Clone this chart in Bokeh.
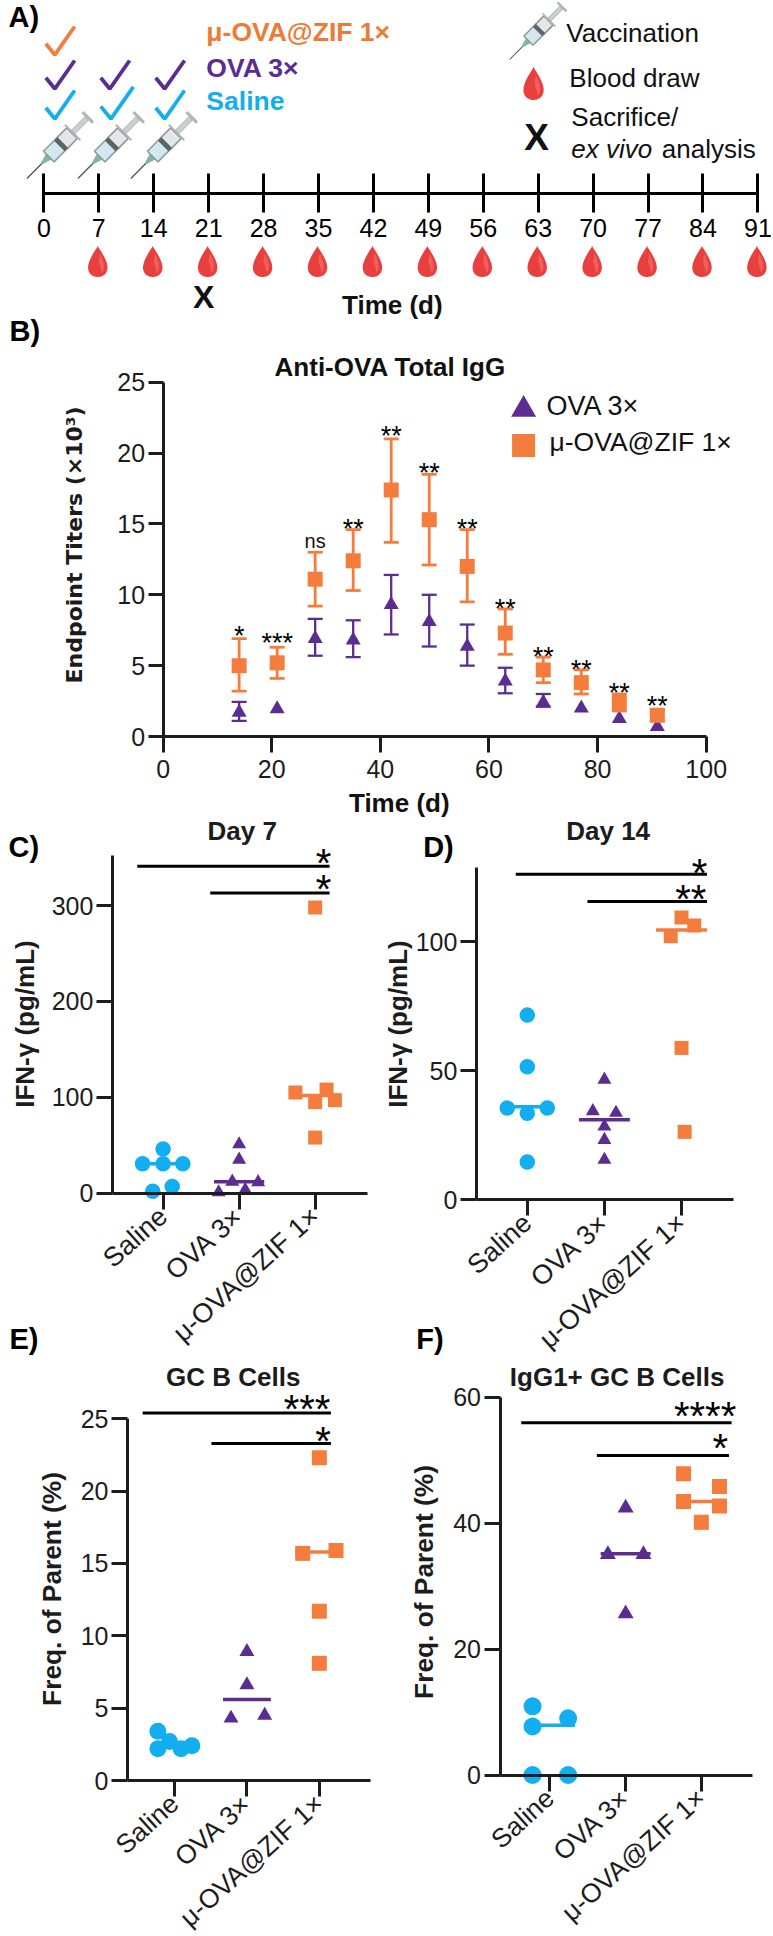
import math
import numpy as np
from bokeh.plotting import figure
from bokeh.layouts import column, row
from bokeh.models import (Range1d, LinearAxis, FixedTicker, Label, Whisker, TeeHead,
                          ColumnDataSource)
from bokeh.core.properties import value
from bokeh.embed import file_html
from bokeh.resources import INLINE

FONT = "Liberation Sans"
ORANGE, PURPLE, BLUE = "#F47C3C", "#5C2D91", "#12AEEF"
DARK = "#1c1c1c"
XS = 0.9945

# ---------- data ----------
timeline_days = [0, 7, 14, 21, 28, 35, 42, 49, 56, 63, 70, 77, 84, 91]
blood_days = [7, 14, 21, 28, 35, 42, 49, 56, 63, 70, 77, 84, 91]
vaccination_days = [0, 7, 14]
sacrifice_day = 21

b_days = [14, 21, 28, 35, 42, 49, 56, 63, 70, 77, 84, 91]
b_orange = [5.0, 5.2, 11.1, 12.4, 17.4, 15.3, 12.0, 7.3, 4.7, 3.8, 2.4, 1.5]
b_orange_hi = [6.9, 6.3, 13.0, 14.6, 21.0, 18.5, 14.6, 9.0, 5.6, 4.7, 3.0, 1.9]
b_orange_lo = [3.2, 4.1, 9.2, 10.3, 13.7, 12.1, 9.5, 5.8, 3.8, 3.0, 1.8, 1.1]
b_purple = [1.7, 1.95, 6.9, 6.8, 9.3, 8.1, 6.35, 3.9, 2.4, 2.0, 1.25, 0.7]
b_purple_hi = [2.45, 2.1, 8.3, 8.2, 11.4, 10.0, 7.9, 4.85, 3.0, 2.1, 1.3, 0.75]
b_purple_lo = [1.1, 1.8, 5.7, 5.6, 7.2, 6.35, 5.0, 3.05, 2.1, 1.9, 1.2, 0.65]
b_sig = ["*", "***", "ns", "**", "**", "**", "**", "**", "**", "**", "**", "**"]
b_sig_y = [7.5, 7.0, 13.8, 15.1, 21.6, 19.0, 15.1, 9.4, 6.0, 5.1, 3.5, 2.6]

groups = ["Saline", "OVA 3×", "μ-OVA@ZIF 1×"]

c_saline_x = [0, -0.27, 0, 0.26, 0.12, -0.136]
c_saline = [46, 30.6, 30.6, 30.6, 7, 2]
c_ova_x = [0, 0, -0.09, 0.25, -0.27, 0.08]
c_ova = [51, 35, 12, 11.5, 1, 3.5]
c_zif_x = [0, -0.26, 0.15, 0, 0.26, 0]
c_zif = [298, 105, 108, 95, 97, 58]
c_medians = [30.6, 12, 102]
c_bars = [(-0.34, 2.19, 341), (0.62, 2.19, 313)]
c_stars = [(2.11, 351, "*"), (2.11, 323, "*")]

d_saline_x = [0, 0, -0.26, 0.26, 0, 0]
d_saline = [71.5, 51.5, 35.5, 35.5, 33.5, 14.6]
d_ova_x = [0, -0.15, 0.15, 0, 0, 0]
d_ova = [46.5, 34.3, 33.7, 28.4, 23.2, 15.5]
d_zif_x = [0, 0.165, -0.14, 0, 0.04]
d_zif = [109.3, 106.2, 102, 58.8, 26.3]
d_medians = [36, 31, 104.5]
d_bars = [(-0.15, 2.33, 126), (0.78, 2.33, 115.5)]
d_stars = [(2.235, 129, "*"), (2.12, 118.8, "**")]

e_saline_x = [-0.23, -0.07, -0.23, 0.09, 0.24]
e_saline = [3.4, 2.7, 2.2, 2.2, 2.4]
e_ova_x = [0, 0, -0.22, 0.245]
e_ova = [8.9, 6.6, 4.3, 4.5]
e_zif_x = [0, 0.23, -0.23, 0, 0]
e_zif = [22.3, 15.9, 15.7, 11.7, 8.1]
e_medians = [2.4, 5.6, 15.8]
e_bars = [(-0.44, 2.16, 25.4), (0.51, 2.16, 23.3)]
e_stars = [(1.83, 26.07, "***"), (2.05, 23.9, "*")]

f_saline_x = [-0.23, -0.23, 0.24, -0.23, 0.24]
f_saline = [10.9, 7.7, 9.0, 0, 0]
f_ova_x = [0, -0.235, 0.235, 0]
f_ova = [42.4, 35, 35, 25.6]
f_zif_x = [-0.235, 0.24, -0.235, 0.24, 0]
f_zif = [47.8, 45.8, 43.4, 42.7, 40.1]
f_medians = [7.9, 35.1, 43.4]
f_bars = [(-0.38, 2.40, 55.9), (0.62, 2.365, 50.7)]
f_stars = [(2.05, 58, "****"), (2.25, 52.8, "*")]


# ---------- helpers ----------
def panel(left, right, top, bottom, xa, xa_px, xb, xb_px, ya, ya_px, yb, yb_px):
    """figure whose frame is the whole canvas, covering page pixels left..right, top..bottom"""
    xa_px, xb_px = xa_px * XS, xb_px * XS
    kx = (xb - xa) / (xb_px - xa_px)
    ky = (yb - ya) / (yb_px - ya_px)
    p = figure(width=right - left, height=bottom - top,
               x_range=Range1d(xa + (left - xa_px) * kx, xa + (right - xa_px) * kx),
               y_range=Range1d(ya + (bottom - ya_px) * ky, ya + (top - ya_px) * ky),
               x_axis_type=None, y_axis_type=None, toolbar_location=None,
               output_backend="svg", min_border=0, outline_line_color=None)
    p.background_fill_color = None
    p.border_fill_color = None
    return p


def T(p, box, x, y, text, size=22, bold=False, italic=False, color=DARK, align="left", angle=0, font=FONT):
    style = "bold" if bold else ("italic" if italic else "normal")
    p.add_layout(Label(x=x * XS - box[0], y=box[1] - y + 1.5, x_units="screen", y_units="screen", text=text,
                       text_font=font, text_font_size=f"{size}px", text_font_style=style,
                       text_color=color, text_align=align, text_baseline="middle",
                       angle=angle, angle_units="deg"))


def style_axis(ax, lw, size, color, tick=16, standoff=4):
    ax.axis_line_width = lw
    ax.axis_line_color = color
    ax.major_tick_line_width = lw
    ax.major_tick_line_color = color
    ax.major_tick_out = tick
    ax.major_tick_in = 0
    ax.minor_tick_line_color = None
    ax.major_label_text_font = FONT
    ax.major_label_text_font_size = f"{size}px"
    ax.major_label_text_color = color
    ax.major_label_standoff = standoff


def dot_panel(box_px, cal, ytop_val, yticks, xax_end, data, medians, bars, stars, title, title_xy,
              ylab, ylab_xy, letters, ms=(15.5, 14, 14), ylab_size=26, tick_size=27):
    left, right, top, bottom = box_px
    p = panel(left, right, top, bottom, *cal)
    box = (left, bottom)
    xl, xr = xax_end
    ya = LinearAxis(ticker=FixedTicker(ticks=yticks), fixed_location=xl, bounds=(0, ytop_val))
    style_axis(ya, 3, 25, DARK, tick=16, standoff=3)
    p.add_layout(ya, "left")
    xa = LinearAxis(ticker=FixedTicker(ticks=[0, 1, 2]), fixed_location=0, bounds=(xl, xr),
                    major_label_overrides={i: g for i, g in enumerate(groups)},
                    major_label_orientation=math.radians(42))
    style_axis(xa, 3, tick_size, DARK, tick=16, standoff=3)
    p.add_layout(xa, "below")
    kinds = [("circle", BLUE, ms[0]), ("triangle", PURPLE, ms[1]), ("square", ORANGE, ms[2])]
    for i, ((xs, ys), (mk, col, sz)) in enumerate(zip(data, kinds)):
        p.scatter([i + v for v in xs], ys, marker=mk, size=sz, color=col, line_color=None)
        p.segment([i - 0.33], [medians[i]], [i + 0.33], [medians[i]], line_color=col, line_width=3.5)
    for x0, x1, y in bars:
        p.segment([x0], [y], [x1], [y], line_color="#000000", line_width=3)
    p.text([s[0] for s in stars], [s[1] for s in stars], text=[s[2] for s in stars],
           text_font=value(FONT), text_font_size="40px", text_color="#000000",
           text_align="center", text_baseline="middle", y_offset=6)
    T(p, box, title_xy[0], title_xy[1], title, size=26, bold=True, align="center", color=DARK)
    T(p, box, ylab_xy[0], ylab_xy[1], ylab, size=ylab_size, bold=True, align="center", angle=90, color=DARK)
    for (lx, ly, ltx) in letters:
        T(p, box, lx, ly, ltx, size=29, bold=True, color="#000000")
    return p


# ---------- panel A ----------
A_L, A_R, A_T, A_B = 0, 773, 0, 354
DAY0, PXDAY = 43.6, 7.89
pa = panel(A_L, A_R, A_T, A_B, 0, DAY0, 91, DAY0 + 91 * PXDAY, 0, 0, 100, 100)
boxA = (A_L, A_B)
ax = LinearAxis(ticker=FixedTicker(ticks=timeline_days), fixed_location=193.3, bounds=(0, 91))
style_axis(ax, 3, 25, "#000000", tick=19, standoff=6)
ax.major_tick_in = 20
pa.add_layout(ax, "below")


def px2d(px):
    return [(v - DAY0) / PXDAY for v in px]


def drop(cx, cy, w, h):
    t = np.linspace(0, 2 * np.pi, 60)
    x = cx + w / 2 * np.sin(t) * np.sin(t / 2) ** 1.3 * 1.12
    y = cy - h / 2 * np.cos(t)
    pa.patch(px2d(x), list(y), fill_color="#E8403F", line_color=None)
    tt = np.linspace(0.9, 2.6, 30)
    x2 = cx + w / 2 * 0.72 * np.sin(tt) * np.sin(tt / 2) ** 1.3
    y2 = cy - h / 2 * 0.85 * np.cos(tt)
    pa.patch(px2d(np.r_[x2, cx + 1]), list(np.r_[y2, cy]), fill_color="#EF5F5C", line_color=None)


def syringe(tipx, tipy, L=1.0):
    ux, uy = math.cos(math.pi / 4), -math.sin(math.pi / 4)
    nx, ny = -uy, ux

    def poly(tw, color, lc=None, lw=1):
        xs = [tipx + L * (t * ux + s * nx) for t, s in tw]
        ys = [tipy + L * (t * uy + s * ny) for t, s in tw]
        pa.patch(px2d(xs), ys, fill_color=color, line_color=lc, line_width=lw)

    def rect(t0, t1, hw, color, lc=None, lw=1):
        poly([(t0, -hw), (t1, -hw), (t1, hw), (t0, hw)], color, lc, lw)

    rect(0, 24, 0.6, "#4a4f52")
    poly([(21, -1), (31, -4), (31, 4), (21, 1)], "#7DB89A")
    rect(31, 64, 7.5, "#D2E7EE", "#8E989C", 1.5)
    rect(48, 64, 7.5, "#E4E7E8", "#8E989C", 1.5)
    rect(46, 51, 7.5, "#5B6468")
    rect(64, 66, 11, "#AEB5B8")
    rect(66, 85, 2.5, "#C9CED0", "#A0A7AA", 0.8)
    rect(85, 88, 7.5, "#AEB5B8")


for d in blood_days:
    drop(DAY0 + PXDAY * d - 1, 261, 24, 31)
for d, off in zip(vaccination_days, [-17, -21, -23]):
    syringe(DAY0 + PXDAY * d + off, 178)
syringe(512, 59, 0.86)
drop(536, 83, 25, 33)

checks = [(0, 0, ORANGE, 1), (0, 34, PURPLE, 1), (0, 64, BLUE, 1),
          (7, 34, PURPLE, 1), (7, 64, BLUE, 1.13), (14, 34, PURPLE, 1), (14, 64, BLUE, 1)]
for d, dy, col, k in checks:
    base = DAY0 + PXDAY * d + 2
    ymid = 54.3 + dy
    pa.line(px2d([base, base + 9 * k, base + 29 * k]), [ymid - 11 * k, ymid, ymid - 28.3 * k],
            line_color=col, line_width=3.8)

T(pa, boxA, 8, 18, "A)", size=29, bold=True, color="#000000")
T(pa, boxA, 9, 332, "B)", size=29, bold=True, color="#000000")
T(pa, boxA, 207, 33, "μ-OVA@ZIF 1×", size=26.5, bold=True, color="#EE7A35")
T(pa, boxA, 207, 69, "OVA 3×", size=26.5, bold=True, color=PURPLE)
T(pa, boxA, 207, 102, "Saline", size=26.5, bold=True, color=BLUE)
T(pa, boxA, 569, 34, "Vaccination", size=26, color="#111111")
T(pa, boxA, 572, 79, "Blood draw", size=26, color="#111111")
T(pa, boxA, 574, 118, "Sacrifice/", size=26, color="#111111")
T(pa, boxA, 574, 150, "ex vivo", size=26, italic=True, color="#111111")
T(pa, boxA, 665, 150, "analysis", size=26, color="#111111")
T(pa, boxA, 539, 138, "X", size=37, bold=True, color="#111111", align="center")
T(pa, boxA, DAY0 + PXDAY * sacrifice_day - 5, 298, "X", size=32, bold=True, color="#111111", align="center")
T(pa, boxA, 394, 306, "Time (d)", size=26, bold=True, color="#111111", align="center")

# ---------- panel B ----------
B_T, B_B = A_B, 820
pb = panel(0, 773, B_T, B_B, 0, 163.5, 100, 709.6, 0, 736, 25, 381.7)
boxB = (0, B_B)
ya = LinearAxis(ticker=FixedTicker(ticks=[0, 5, 10, 15, 20, 25]), fixed_location=0, bounds=(0, 25))
style_axis(ya, 3, 25, DARK, tick=15, standoff=3)
pb.add_layout(ya, "left")
xa = LinearAxis(ticker=FixedTicker(ticks=[0, 20, 40, 60, 80, 100]), fixed_location=0, bounds=(0, 100))
style_axis(xa, 3, 25, DARK, tick=16, standoff=7)
pb.add_layout(xa, "below")

keep = [i for i in range(len(b_days)) if b_purple_hi[i] - b_purple_lo[i] > 0.35]
src_p = ColumnDataSource(dict(x=[b_days[i] for i in keep], hi=[b_purple_hi[i] for i in keep],
                              lo=[b_purple_lo[i] for i in keep]))
src_o = ColumnDataSource(dict(x=b_days, hi=b_orange_hi, lo=b_orange_lo))
for s, col, lw in [(src_p, PURPLE, 2.3), (src_o, ORANGE, 2.8)]:
    w = Whisker(source=s, base="x", upper="hi", lower="lo", line_color=col, line_width=lw, level="glyph",
                upper_head=TeeHead(size=15, line_color=col, line_width=lw),
                lower_head=TeeHead(size=15, line_color=col, line_width=lw))
    pb.add_layout(w)
pb.scatter(b_days, b_purple, marker="triangle", size=15, color=PURPLE, line_color=None)
pb.scatter(b_days, b_orange, marker="square", size=15, color=ORANGE, line_color=None)
stars = [s != "ns" for s in b_sig]
pb.text([x for x, k in zip(b_days, stars) if k], [y for y, k in zip(b_sig_y, stars) if k],
        text=[s for s in b_sig if s != "ns"], text_font=value(FONT), text_font_size="27px",
        text_color="#000000", text_align="center", text_baseline="middle", y_offset=6)
pb.text([x for x, k in zip(b_days, stars) if not k], [y for y, k in zip(b_sig_y, stars) if not k],
        text=["ns"], text_font=value(FONT), text_font_size="20px", text_color="#111111",
        text_align="center", text_baseline="middle")
T(pb, boxB, 392, 368, "Anti-OVA Total IgG", size=26, bold=True, color="#111111", align="center")
T(pb, boxB, 74, 546, "Endpoint Titers (×10³)", size=22, bold=True, align="center", angle=90,
  font="DejaVu Sans")
T(pb, boxB, 401, 804, "Time (d)", size=26, bold=True, color="#111111", align="center")
T(pb, boxB, 549, 407, "OVA 3×", size=27, color="#111111")
T(pb, boxB, 552, 443, "μ-OVA@ZIF 1×", size=26.5, color="#111111")
pb.scatter([(526 - 163.5) / 5.461], [(736 - 409) / 14.172], marker="triangle", size=25,
           color=PURPLE, line_color=None)
pb.scatter([(526 - 163.5) / 5.461], [(736 - 445) / 14.172], marker="square", size=23,
           color=ORANGE, line_color=None)

# ---------- panels C-F ----------
ROW2_B = 1362
SPLIT_CD, SPLIT_EF = 378, 405
pc = dot_panel((0, SPLIT_CD, 820, ROW2_B), (0, 163.5, 2, 316.4, 0, 1192.7, 300, 905), 352, [0, 100, 200, 300],
               (-0.667, 2.686), [(c_saline_x, c_saline), (c_ova_x, c_ova), (c_zif_x, c_zif)],
               c_medians, c_bars, c_stars, "Day 7", (243, 832), "IFN-γ (pg/mL)", (25, 1025),
               [(8, 848, "C)"), (9, 1340, "E)")])
pd_ = dot_panel((SPLIT_CD, 773, 820, ROW2_B), (0, 529.7, 2, 684.8, 0, 1199.3, 100, 941), 128.8, [0, 50, 100],
                (-0.66, 2.68), [(d_saline_x, d_saline), (d_ova_x, d_ova), (d_zif_x, d_zif)],
                d_medians, d_bars, d_stars, "Day 14", (611, 832), "IFN-γ (pg/mL)", (400, 1025),
                [(425, 848, "D)"), (418, 1340, "F)")])
pe = dot_panel((0, SPLIT_EF, ROW2_B, 1936), (0, 175, 2, 320.6, 0, 1780, 25, 1418.3), 25, [0, 5, 10, 15, 20, 25],
               (-0.65, 2.70), [(e_saline_x, e_saline), (e_ova_x, e_ova), (e_zif_x, e_zif)],
               e_medians, e_bars, e_stars, "GC B Cells", (234, 1378), "Freq. of Parent (%)", (52, 1590), [],
               ms=(17, 15, 15), ylab_size=26.3, tick_size=26.5)
pf = dot_panel((SPLIT_EF, 773, ROW2_B, 1936), (0, 552.5, 2, 704.7, 0, 1774.5, 60, 1396.5), 60, [0, 20, 40, 60],
               (-0.66, 2.68), [(f_saline_x, f_saline), (f_ova_x, f_ova), (f_zif_x, f_zif)],
               f_medians, f_bars, f_stars, "IgG1+ GC B Cells", (620, 1378), "Freq. of Parent (%)", (426, 1583), [],
               ms=(18, 16, 15), ylab_size=26.3, tick_size=26.5)

page = column(pa, pb, row(pc, pd_), row(pe, pf))
open("out.html", "w").write(file_html(page, INLINE))
